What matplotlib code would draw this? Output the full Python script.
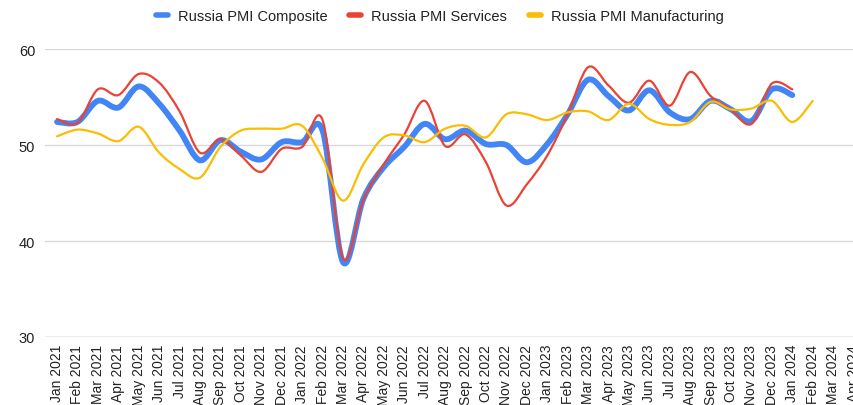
import numpy as np
import matplotlib
matplotlib.use("Agg")
import matplotlib.pyplot as plt
from matplotlib.path import Path
from matplotlib.patches import PathPatch
from matplotlib.lines import Line2D

plt.rcParams['font.family'] = ['Liberation Sans', 'DejaVu Sans']

# months shown on the axis
months = ['Jan 2021', 'Feb 2021', 'Mar 2021', 'Apr 2021', 'May 2021', 'Jun 2021',
          'Jul 2021', 'Aug 2021', 'Sep 2021', 'Oct 2021', 'Nov 2021', 'Dec 2021',
          'Jan 2022', 'Feb 2022', 'Mar 2022', 'Apr 2022', 'May 2022', 'Jun 2022',
          'Jul 2022', 'Aug 2022', 'Sep 2022', 'Oct 2022', 'Nov 2022', 'Dec 2022',
          'Jan 2023', 'Feb 2023', 'Mar 2023', 'Apr 2023', 'May 2023', 'Jun 2023',
          'Jul 2023', 'Aug 2023', 'Sep 2023', 'Oct 2023', 'Nov 2023', 'Dec 2023',
          'Jan 2024', 'Feb 2024', 'Mar 2024', 'Apr 2024']

# Jan 2021 .. Jan 2024
composite = [52.4, 52.4, 54.6, 53.9, 56.1, 54.3, 51.5, 48.4, 50.5, 49.3,
             48.5, 50.3, 50.3, 51.5, 37.8, 44.4, 47.7, 49.8, 52.2, 50.6,
             51.5, 50.1, 50.0, 48.2, 50.1, 53.2, 56.8, 55.1, 53.6, 55.7,
             53.4, 52.7, 54.6, 53.7, 52.5, 55.8, 55.2]
services = [52.7, 52.3, 55.8, 55.2, 57.4, 56.5, 53.5, 49.2, 50.6, 48.9,
            47.2, 49.6, 49.8, 52.6, 38.2, 44.3, 48.0, 51.1, 54.6, 49.9,
            51.1, 48.2, 43.7, 45.9, 48.9, 53.2, 58.1, 56.2, 54.4, 56.7,
            54.1, 57.6, 55.1, 53.7, 52.2, 56.4, 55.8]
# Jan 2021 .. Feb 2024
manufacturing = [50.9, 51.6, 51.2, 50.4, 51.9, 49.2, 47.5, 46.6, 49.8, 51.5,
                 51.7, 51.7, 52.0, 48.6, 44.2, 48.0, 50.8, 51.0, 50.3, 51.7,
                 52.0, 50.8, 53.2, 53.2, 52.6, 53.4, 53.5, 52.6, 54.3, 52.7,
                 52.1, 52.4, 54.5, 53.7, 53.8, 54.6, 52.4, 54.6]

series = [('Russia PMI Composite', composite, '#4285F4', 4.2),
          ('Russia PMI Services', services, '#EA4335', 1.6),
          ('Russia PMI Manufacturing', manufacturing, '#FBBC04', 1.6)]


def smooth_path(ys):
    # catmull-rom style bezier through the points, like the "smooth" line option
    pts = np.column_stack([np.arange(len(ys)), ys]).astype(float)
    ext = np.vstack([pts[0], pts, pts[-1]])
    verts = [pts[0]]
    codes = [Path.MOVETO]
    for i in range(1, len(ext) - 2):
        p0, p1, p2, p3 = ext[i - 1], ext[i], ext[i + 1], ext[i + 2]
        verts += [p1 + (p2 - p0) / 6, p2 - (p3 - p1) / 6, p2]
        codes += [Path.CURVE4] * 3
    return Path(verts, codes)


fig = plt.figure(figsize=(8.54, 4.06), dpi=100)
ax = fig.add_axes([45 / 854, 1 - 338 / 406, 1 - 45 / 854, 288 / 406])

for name, vals, color, lw in series:
    ax.add_patch(PathPatch(smooth_path(vals), facecolor='none', edgecolor=color,
                           lw=lw, capstyle='round', joinstyle='round', clip_on=False))

ax.set_ylim(30, 60)
ax.set_xlim(-0.59, 39.02)
ax.set_yticks([30, 40, 50, 60])
ax.set_xticks(range(len(months)))
ax.set_xticklabels(months, rotation=90, fontsize=10, color='#222222')
ax.tick_params(axis='y', labelsize=10.5, labelcolor='#222222', length=0, pad=7)
ax.tick_params(axis='x', length=0, pad=5)
ax.grid(axis='y', color='#d9d9d9', lw=1)
ax.set_axisbelow(True)
for s in ax.spines.values():
    s.set_visible(False)
ax.axhline(30, color='#bdbdbd', lw=1, zorder=0)

handles = [Line2D([], [], color=c, lw=4, solid_capstyle='round') for _, _, c, _ in series]
fig.legend(handles, [n for n, _, _, _ in series], loc='center',
           bbox_to_anchor=(440 / 854, 1 - 17 / 406), ncol=3, frameon=False,
           fontsize=10.5, handlelength=0.8, handletextpad=0.7, columnspacing=1.5,
           labelcolor='#222222')

fig.savefig('out.png', dpi=100, facecolor='white')
